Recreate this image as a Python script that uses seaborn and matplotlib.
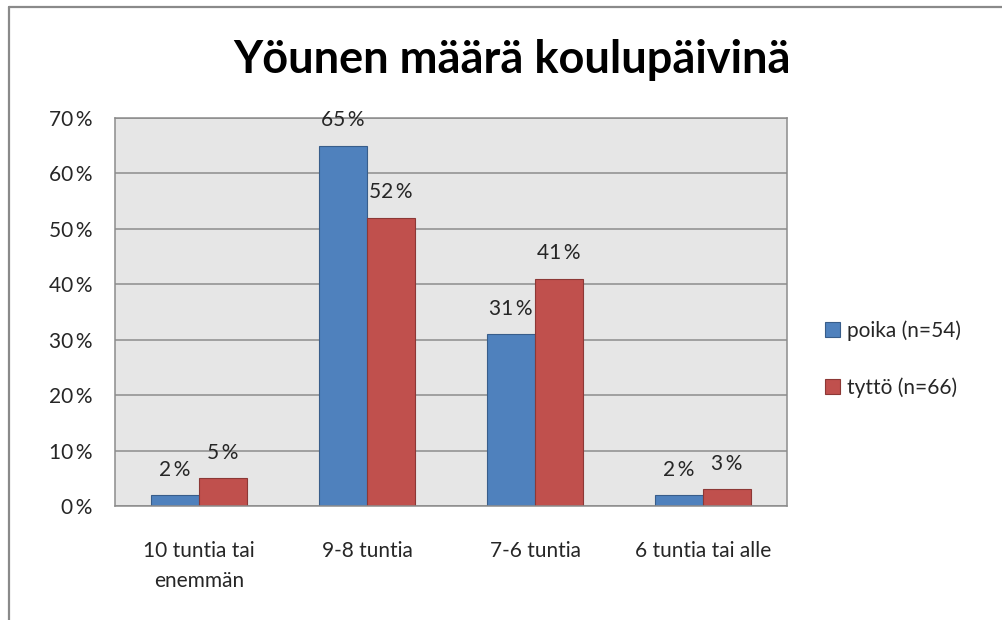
import pandas as pd
import matplotlib

matplotlib.use("Agg")
import matplotlib.pyplot as plt
import seaborn as sns
from matplotlib.lines import Line2D
from matplotlib.ticker import FuncFormatter, MultipleLocator

categories = ["10 tuntia tai\nenemmän", "9-8 tuntia", "7-6 tuntia", "6 tuntia tai alle"]
groups = ["poika (n=54)", "tyttö (n=66)"]
poika = [2, 65, 31, 2]
tytto = [5, 52, 41, 3]

fills = ["#4f81bd", "#c0504d"]
edges = ["#385d8a", "#8c3836"]
text_col = "#262626"
fs = 15

df = pd.DataFrame({
    "luokka": categories * 2,
    "ryhma": [groups[0]] * 4 + [groups[1]] * 4,
    "osuus": poika + tytto,
})

sns.set_style("white")
plt.rcParams["font.family"] = ["Lato", "DejaVu Sans"]

fig = plt.figure(figsize=(10.03, 6.2), dpi=100)
ax = fig.add_axes([0.1147, 0.1839, 0.670, 0.6258])

sns.barplot(data=df, x="luokka", y="osuus", hue="ryhma", order=categories,
            hue_order=groups, palette=fills, width=0.571, gap=0,
            saturation=1, ax=ax, legend=False)

for cont, ec in zip(ax.containers, edges):
    for bar in cont:
        bar.set_edgecolor(ec)
        bar.set_linewidth(0.8)
    ax.bar_label(cont, labels=[f"{v:.0f}\u2009%" for v in cont.datavalues],
                 padding=11, fontsize=fs, color=text_col)

ax.set_facecolor("#e6e6e6")
ax.set_ylim(0, 70)
ax.set_xlim(-0.5, 3.5)
ax.yaxis.set_major_locator(MultipleLocator(10))
ax.yaxis.set_major_formatter(FuncFormatter(lambda v, p: f"{v:.0f}\u2009%"))
ax.grid(axis="y", color="#8c8c8c", linewidth=1.1)
ax.set_axisbelow(True)
for s in ax.spines.values():
    s.set_color("#8c8c8c")
    s.set_linewidth(1.1)
ax.set_xlabel("")
ax.set_ylabel("")
ax.tick_params(axis="y", length=0, pad=16, labelsize=fs, labelcolor=text_col)
ax.tick_params(axis="x", length=0, pad=25, labelsize=fs, labelcolor=text_col)
for lab in ax.get_xticklabels():
    lab.set_linespacing(1.65)
    lab.set_verticalalignment("top")

handles = [plt.Rectangle((0, 0), 1, 1, facecolor=f, edgecolor=e, linewidth=0.8)
           for f, e in zip(fills, edges)]
fig.legend(handles, groups, loc="center left", bbox_to_anchor=(0.823, 0.421),
           frameon=False, fontsize=fs, labelcolor=text_col,
           handlelength=0.7, handleheight=0.7, handletextpad=0.35,
           labelspacing=1.75, borderaxespad=0, borderpad=0)

fig.text(0.510, 0.903, "Yöunen määrä koulupäivinä", ha="center", va="center",
         fontsize=32.5, fontweight="bold", color="black")

# outer chart border (top and left edges visible in the screenshot)
fig.add_artist(Line2D([9.5 / 1003, 1], [1 - 6.5 / 620, 1 - 6.5 / 620],
                      transform=fig.transFigure, color="#8a8a8a", linewidth=1.6))
fig.add_artist(Line2D([9.5 / 1003, 9.5 / 1003], [0, 1 - 6.5 / 620],
                      transform=fig.transFigure, color="#8a8a8a", linewidth=1.6))

fig.savefig("out.png", dpi=100, facecolor="white")
plt.close(fig)
